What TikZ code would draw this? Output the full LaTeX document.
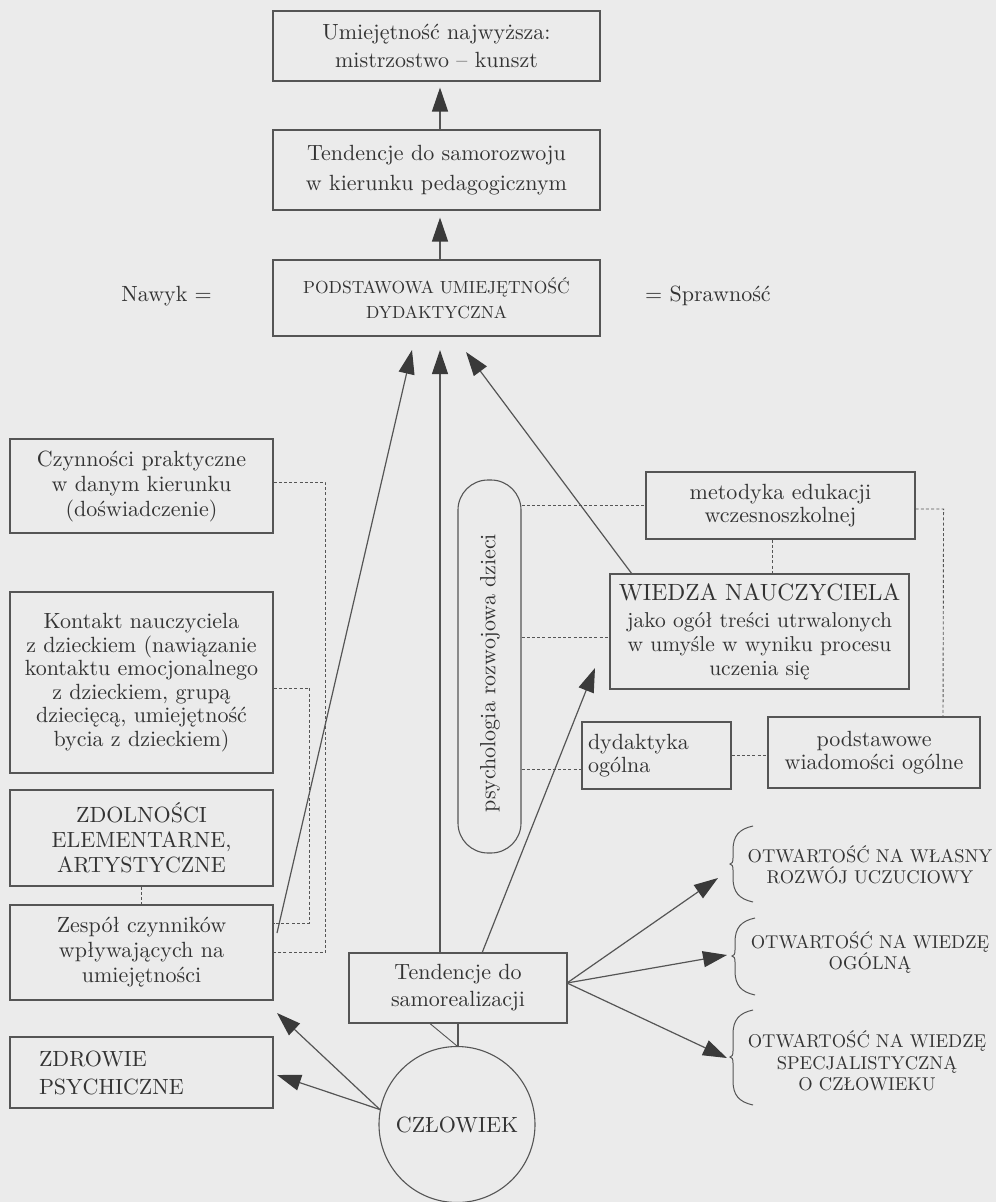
\documentclass[tikz,border=0pt]{standalone}
\usepackage{fontspec}
\setmainfont{lmroman10-regular.otf}
\usetikzlibrary{arrows.meta}
\definecolor{bg}{HTML}{EBEBEB}
\definecolor{ink}{HTML}{333333}
\definecolor{ln}{HTML}{555555}
\definecolor{hd}{HTML}{3A3A3A}
\newcommand{\mybrace}[4]{%
  \draw[ln,line width=1pt] (#1,#2) .. controls (#1-14,#2+3) and (#1-20,#2+10) .. (#1-20,#2+24)
    -- (#1-20,#3-6) .. controls (#1-20,#3-2) and (#1-21,#3) .. (#1-23,#3)
    .. controls (#1-21,#3) and (#1-20,#3+2) .. (#1-20,#3+6)
    -- (#1-20,#4-24) .. controls (#1-20,#4-10) and (#1-14,#4-3) .. (#1,#4);}
\begin{document}
\begin{tikzpicture}[x=1pt,y=-1pt,
  box/.style={draw=ln,line width=1.1pt,inner sep=0pt,align=center,text=ink,font=\fontsize{22}{25}\selectfont},
  txt/.style={text=ink,inner sep=0pt,font=\fontsize{22}{25}\selectfont},
  btxt/.style={text=ink,inner sep=0pt,align=center,font=\fontsize{18.5}{21.5}\selectfont},
  arr/.style={draw=ln,line width=1.2pt,-{Triangle[length=24pt,width=16pt,color=hd]}},
  con/.style={draw=ln,line width=1.2pt},
  dl/.style={draw=ln,line width=0.9pt,dash pattern=on 3pt off 2.2pt}]
\fill[bg] (0,0) rectangle (996,1202);
\useasboundingbox (0,0) rectangle (996,1202);

% central column
\node[box,minimum width=327pt,minimum height=70pt,font=\fontsize{22}{28}\selectfont] (top) at (436.5,46) {Umiejętność najwyższa:\\mistrzostwo – kunszt};
\node[box,minimum width=327pt,minimum height=80pt,font=\fontsize{22}{30}\selectfont] (sam) at (436.5,170) {Tendencje do samorozwoju\\w kierunku pedagogicznym};
\node[box,minimum width=327pt,minimum height=76pt,font=\fontsize{17.5}{25}\selectfont] (pud) at (436.5,298) {PODSTAWOWA UMIEJĘTNOŚĆ\\DYDAKTYCZNA};
\node[txt,anchor=east] (naw) at (212,296) {Nawyk =};
\node[txt,anchor=west] (spr) at (645,296) {= Sprawność};

% left column
\node[box,minimum width=263pt,minimum height=94pt] (czy) at (141.5,486) {Czynności praktyczne\\w danym kierunku\\(doświadczenie)};
\node[box,minimum width=263pt,minimum height=181pt,font=\fontsize{22}{23.5}\selectfont] (kon) at (141.5,682.5) {Kontakt nauczyciela\\z dzieckiem (nawiązanie\\kontaktu emocjonalnego\\z dzieckiem, grupą\\dziecięcą, umiejętność\\bycia z dzieckiem)};
\node[box,minimum width=263pt,minimum height=96pt] (zdo) at (141.5,838) {ZDOLNOŚCI\\ELEMENTARNE,\\ARTYSTYCZNE};
\node[box,minimum width=263pt,minimum height=95pt] (zes) at (141.5,952.5) {Zespół czynników\\wpływających na\\umiejętności};
\node[box,text width=205pt,inner xsep=29pt,minimum height=71pt,align=left,font=\fontsize{22}{28}\selectfont] (zdr) at (141.5,1072.5) {ZDROWIE\\PSYCHICZNE};

% right part
\node[box,minimum width=269pt,minimum height=67pt,font=\fontsize{22}{23.5}\selectfont] (met) at (780.5,505.5) {metodyka edukacji\\wczesnoszkolnej};
\node[box,minimum width=299pt,minimum height=115pt,font=\fontsize{21.5}{24}\selectfont] (wie) at (759.5,631.5) {{\fontsize{23.5}{25}\selectfont WIEDZA NAUCZYCIELA}\\[3pt]jako ogół treści utrwalonych\\w umyśle w wyniku procesu\\uczenia się};
\node[box,text width=137pt,inner xsep=6pt,minimum height=67pt,align=left,font=\fontsize{22}{23}\selectfont] (dyd) at (656.5,755.5) {dydaktyka\\ogólna};
\node[box,minimum width=212pt,minimum height=71pt,font=\fontsize{22}{23.5}\selectfont] (pws) at (874,752.5) {podstawowe\\wiadomości ogólne};
\node[draw=ln,line width=1.1pt,rounded corners=30pt,minimum width=63pt,minimum height=373pt,inner sep=0pt] (psy) at (489.5,666.5) {};
\node[txt,rotate=90] (psyt) at (490,673) {psychologia rozwojowa dzieci};

% bottom
\node[box,minimum width=218pt,minimum height=70pt,font=\fontsize{22}{27}\selectfont] (tsr) at (458,988) {Tendencje do\\samorealizacji};
\node[draw=ln,line width=1.1pt,circle,minimum size=156pt,inner sep=0pt,text=ink,font=\fontsize{22}{25}\selectfont] (czl) at (457,1124.5) {CZŁOWIEK};

% braces and their texts
\mybrace{753}{826}{864}{902}
\mybrace{755}{918}{956}{995}
\mybrace{753}{1010}{1057}{1105}
\node[btxt] (o1) at (870,865) {OTWARTOŚĆ NA WŁASNY\\ROZWÓJ UCZUCIOWY};
\node[btxt] (o2) at (870,952.5) {OTWARTOŚĆ NA WIEDZĘ\\OGÓLNĄ};
\node[btxt] (o3) at (867,1061) {OTWARTOŚĆ NA WIEDZĘ\\SPECJALISTYCZNĄ\\O CZŁOWIEKU};

% named end points
\coordinate (pL) at (412,350);
\coordinate (pM) at (440,350);
\coordinate (pR) at (466,352);
\coordinate (zS) at (277,933);
\coordinate (wS) at (632,574);
\coordinate (wT) at (595,668);
\coordinate (tU) at (482,953);
\coordinate (tM) at (440,953);
\coordinate (zT) at (277,1013);
\coordinate (dT) at (277,1075);
\coordinate (a1) at (718,878);
\coordinate (a2) at (727,955);
\coordinate (a3) at (727,1058);
\coordinate (tE) at (567,983);

% arrows
\draw[arr] ([xshift=3.5pt]sam.north) -- ([xshift=3.5pt,yshift=-6pt]top.south);
\draw[arr] ([xshift=3.5pt]pud.north) -- ([xshift=3.5pt,yshift=-7pt]sam.south);
\draw[arr] (zS) -- (pL);
\draw[arr] (tM) -- (pM);
\draw[arr] (wS) -- (pR);
\draw[arr] (tU) -- (wT);
\draw[arr] (czl.169) -- (zT);
\draw[arr] (czl.169) -- (dT);
\draw[arr] (tE) -- (a1);
\draw[arr] (tE) -- (a2);
\draw[arr] (tE) -- (a3);
\draw[con] (tsr.south) -- (tsr.south |- czl.north);
\draw[con,line width=0.9pt] ([xshift=-28pt]tsr.south) -- (czl.north);

% dashed links
\draw[dl] ([yshift=4pt]czy.east) -- ++(52,0) |- (zes.east);
\draw[dl] ([yshift=-5.5pt]kon.east) -- ++(36,0) |- ([yshift=29.5pt]zes.east);
\draw[dl] (zdo.south) -- (zes.north);
\draw[dl] (psy.east |- met.west) -- (met.west);
\draw[dl] (psy.east |- 0,637) -- (wie.west |- 0,637);
\draw[dl] (psy.east |- 0,769) -- (dyd.west |- 0,769);
\draw[dl] ([xshift=-8.5pt]met.south) -- ([xshift=-8.5pt]met.south |- wie.north);
\draw[dl] ([yshift=-3.5pt]met.east) -- ++(28,0) -- ([xshift=69pt]pws.north);
\draw[dl] (dyd.east) -- (dyd.east -| pws.west);
\end{tikzpicture}
\end{document}
